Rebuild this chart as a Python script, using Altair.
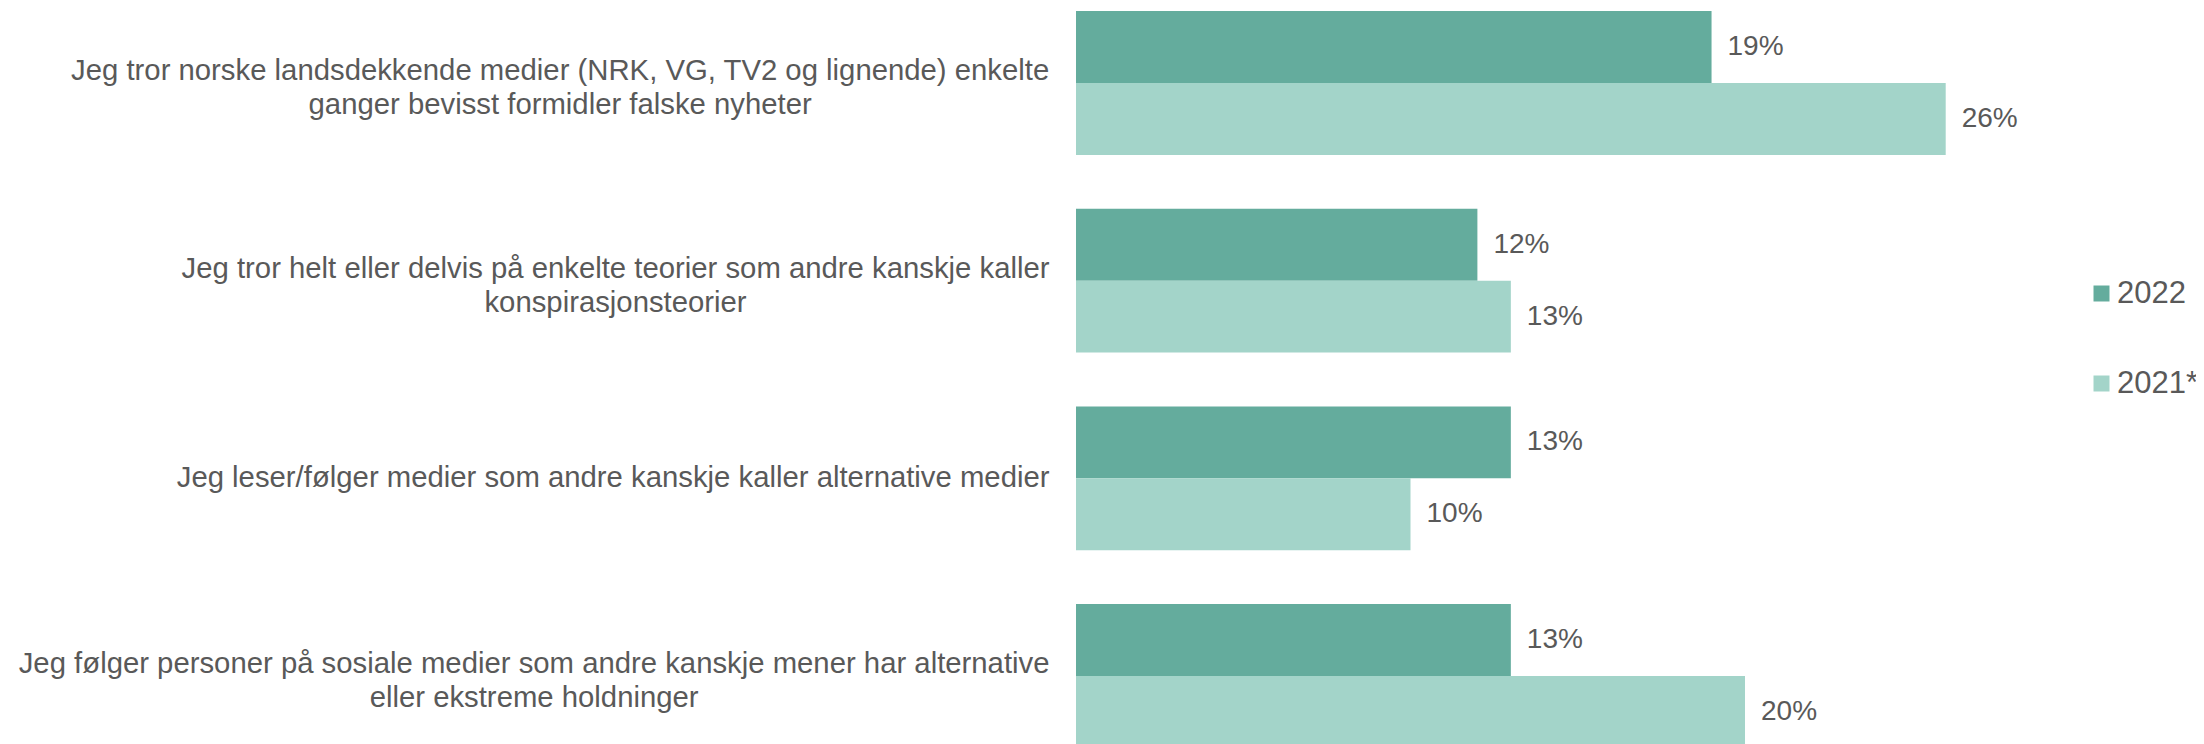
import altair as alt
import pandas as pd

# ---- data ----
statements = [
    ["Jeg tror norske landsdekkende medier (NRK, VG, TV2 og lignende) enkelte",
     "ganger bevisst formidler falske nyheter"],
    ["Jeg tror helt eller delvis på enkelte teorier som andre kanskje kaller",
     "konspirasjonsteorier"],
    ["Jeg leser/følger medier som andre kanskje kaller alternative medier"],
    ["Jeg følger personer på sosiale medier som andre kanskje mener har alternative",
     "eller ekstreme holdninger"],
]
years = ["2022", "2021*"]
values_2022 = [19, 12, 13, 13]
values_2021 = [26, 13, 10, 20]

# ---- style ----
DARK = "#64AC9D"
LIGHT = "#A3D4C9"
TEXT = "#595959"
FONT = "Liberation Sans"
AXIS_FS = 29.3
VAL_FS = 28
LEG_FS = 31

# Arial/Liberation Sans advance widths (per 1000 em) for centering label blocks
ARIAL = {" ": 278, "(": 333, ")": 333, ",": 278, "/": 278, "2": 556, "G": 778,
         "J": 500, "K": 667, "N": 722, "R": 722, "T": 611, "V": 667, "a": 556,
         "b": 556, "c": 500, "d": 556, "e": 556, "f": 278, "g": 556, "h": 556,
         "i": 222, "j": 222, "k": 500, "l": 222, "m": 833, "n": 556, "o": 556,
         "p": 556, "r": 333, "s": 500, "t": 278, "u": 556, "v": 500, "y": 500,
         "å": 556, "ø": 611}


def text_width(s):
    return sum(ARIAL.get(ch, 556) for ch in s) / 1000 * AXIS_FS


GAP = 27
LINE_H = 34
categories = ["\n".join(lines) for lines in statements]

rows = []
for cat, v22, v21 in zip(categories, values_2022, values_2021):
    rows.append({"category": cat, "year": years[0], "value": v22, "label": f"{v22}%"})
    rows.append({"category": cat, "year": years[1], "value": v21, "label": f"{v21}%"})
df = pd.DataFrame(rows)

pad_conditions = [
    {"test": f"indexof(datum.value, '{lines[0]}') == 0",
     "value": GAP + max(text_width(l) for l in lines) / 2}
    for lines in statements
]
offset_conditions = [
    {"test": f"indexof(datum.value, '{lines[0]}') == 0",
     "value": -12 * (len(lines) - 1)}
    for lines in statements
]

y_enc = alt.Y(
    "category:N",
    sort=categories,
    title=None,
    scale=alt.Scale(paddingInner=0.272, paddingOuter=0.015),
    axis=alt.Axis(
        domain=False,
        ticks=False,
        tickSize=0,
        labelAlign="center",
        labelBaseline="middle",
        labelPadding={"condition": pad_conditions, "value": GAP},
        labelOffset={"condition": offset_conditions, "value": 0},
        labelExpr="split(datum.label, '\\n')",
        labelFont=FONT,
        labelFontSize=AXIS_FS,
        labelColor=TEXT,
        labelLineHeight=LINE_H,
        labelLimit=0,
        grid=False,
    ),
)
x_enc = alt.X("value:Q", scale=alt.Scale(domain=[0, 30], nice=False, zero=True), axis=None)
yoff = alt.YOffset("year:N", sort=years, scale=alt.Scale(paddingInner=0, paddingOuter=0))

bars = alt.Chart(df).mark_bar().encode(
    x=x_enc,
    y=y_enc,
    yOffset=yoff,
    color=alt.Color(
        "year:N",
        sort=years,
        scale=alt.Scale(domain=years, range=[DARK, LIGHT]),
        legend=alt.Legend(
            title=None,
            orient="none",
            legendX=1010,
            legendY=270,
            symbolType="square",
            symbolSize=256,
            symbolStrokeWidth=0,
            labelFont=FONT,
            labelFontSize=LEG_FS,
            labelColor=TEXT,
            labelOffset=0,
            labelLimit=0,
            rowPadding=58,
            padding=0,
        ),
    ),
)

labels = alt.Chart(df).mark_text(
    align="left", baseline="middle", dx=16, font=FONT, fontSize=VAL_FS, color=TEXT
).encode(
    x=x_enc,
    y=alt.Y("category:N", sort=categories),
    yOffset=yoff,
    text="label:N",
)

chart = (
    alt.layer(bars, labels)
    .properties(
        width=1003.5,
        height=743,
        background="white",
        autosize=alt.AutoSizeParams(type="none"),
        padding={"left": 1068, "top": 0, "right": 116, "bottom": 0},
    )
    .configure_view(strokeWidth=0, stroke=None)
)

chart.save("out.html", embed_options={"renderer": "svg", "actions": False})
